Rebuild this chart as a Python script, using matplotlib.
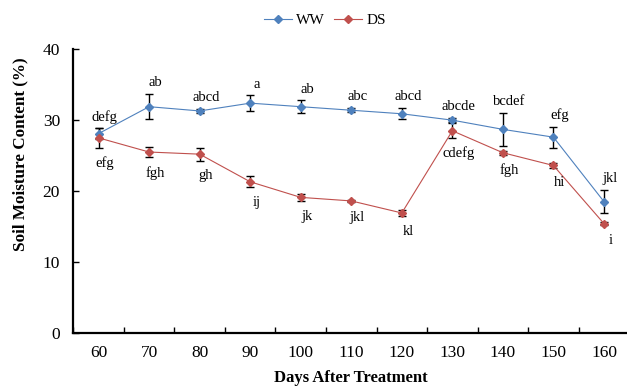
import matplotlib
matplotlib.use("Agg")
import matplotlib.pyplot as plt
import numpy as np

# Sampling days after treatment
days = ["60", "70", "80", "90", "100", "110", "120", "130", "140", "150", "160"]

# Well-watered (WW) soil moisture, mean and error
ww_mean = [28.1, 31.9, 31.3, 32.4, 31.9, 31.4, 30.9, 30.0, 28.7, 27.6, 18.5]
ww_err = [0.8, 1.8, 0.3, 1.1, 0.9, 0.3, 0.8, 0.3, 2.3, 1.5, 1.65]
ww_letters = ["defg", "ab", "abcd", "a", "ab", "abc", "abcd", "abcde", "bcdef", "efg", "jkl"]

# Drought-stressed (DS) soil moisture, mean and error
ds_mean = [27.5, 25.5, 25.2, 21.3, 19.1, 18.6, 16.9, 28.5, 25.4, 23.6, 15.4]
ds_err = [1.4, 0.75, 0.9, 0.75, 0.5, 0.2, 0.4, 1.05, 0.3, 0.3, 0.2]
ds_letters = ["efg", "fgh", "gh", "ij", "jk", "jkl", "kl", "cdefg", "fgh", "hi", "i"]

plt.rcParams["font.family"] = ["Liberation Serif", "DejaVu Serif"]

W, H = 627, 386
fig = plt.figure(figsize=(W / 100, H / 100), dpi=100)
left, bottom, top = 73.3, 332.7, 49.3
step = 50.54
ax = fig.add_axes([left / W, (H - bottom) / H, 11 * step / W, (bottom - top) / H])

x = np.arange(len(days))
blue = "#4F81BD"
red = "#C0504D"

for mean, err, color, name in [(ww_mean, ww_err, blue, "WW"), (ds_mean, ds_err, red, "DS")]:
    ax.errorbar(x, mean, yerr=err, fmt="none", ecolor="black", elinewidth=1.0,
                capsize=2.6, capthick=1.0, zorder=2)
    ax.plot(x, mean, color=color, lw=0.8, marker="D", ms=4.3, mfc=color, mec=color,
            label=name, zorder=3)

for i in range(len(days)):
    ax.annotate(ww_letters[i], (x[i], ww_mean[i] + ww_err[i]), xytext=(4.5, 8),
                textcoords="offset points", ha="center", va="center", fontsize=10.5)
    ax.annotate(ds_letters[i], (x[i], ds_mean[i] - ds_err[i]), xytext=(4.5, -11),
                textcoords="offset points", ha="center", va="center", fontsize=10.5)

ax.set_xlim(-0.5, 10.5)
ax.set_ylim(0, 40)
ax.set_yticks([0, 10, 20, 30, 40])
ax.set_xticks(x)
ax.set_xticklabels(days)
ax.set_xticks(np.arange(-0.5, 10.0, 1.0), minor=True)

ax.tick_params(axis="x", which="major", length=0, pad=8.5, labelsize=12.5)
ax.tick_params(axis="x", which="minor", direction="in", length=4, width=1.0)
ax.tick_params(axis="y", direction="in", length=4, width=1.0, pad=9.5, labelsize=12.5)

for s in ["top", "right"]:
    ax.spines[s].set_visible(False)
for s in ["left", "bottom"]:
    ax.spines[s].set_linewidth(1.6)

fig.text(351 / W, 1 - 378 / H, "Days After Treatment", fontsize=12, fontweight="bold",
         ha="center", va="center")
fig.text(20 / W, 1 - 154 / H, "Soil Moisture Content (%)", fontsize=12.3, fontweight="bold",
         ha="center", va="center", rotation=90)

fig.legend(loc="center", bbox_to_anchor=(325 / W, 1 - 20 / H), ncol=2, frameon=False,
           fontsize=11, handlelength=1.8, columnspacing=0.6, handletextpad=0.3)

fig.savefig("out.png", dpi=100)
